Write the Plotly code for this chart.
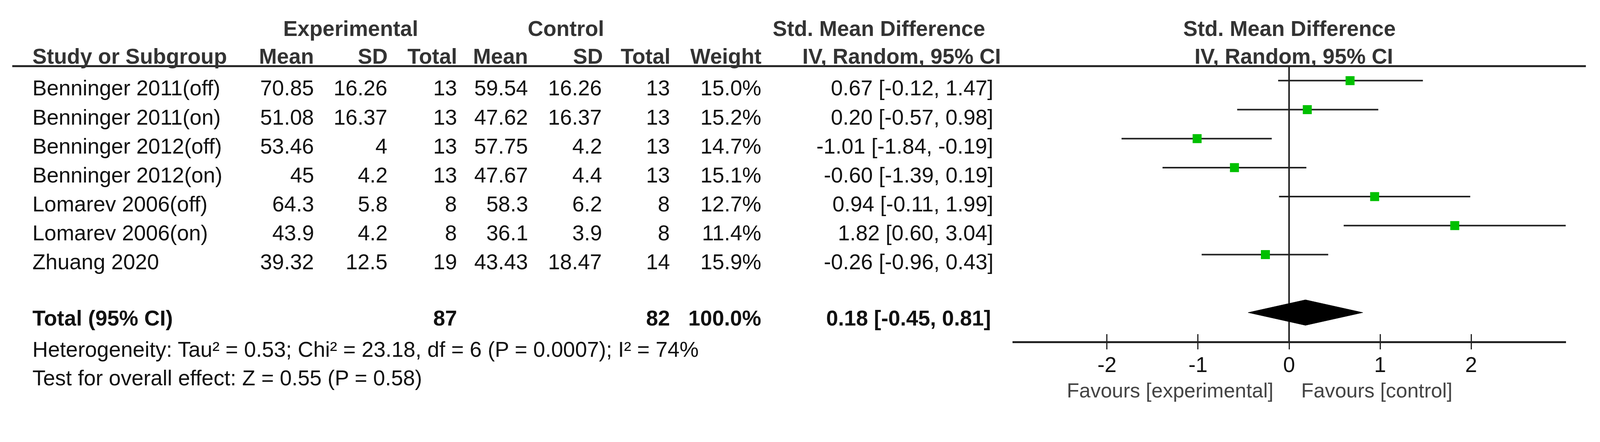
import plotly.graph_objects as go

# ---------------- data ----------------
studies = ["Benninger 2011(off)", "Benninger 2011(on)", "Benninger 2012(off)",
           "Benninger 2012(on)", "Lomarev 2006(off)", "Lomarev 2006(on)", "Zhuang 2020"]
exp_mean = [70.85, 51.08, 53.46, 45, 64.3, 43.9, 39.32]
exp_sd = [16.26, 16.37, 4, 4.2, 5.8, 4.2, 12.5]
exp_n = [13, 13, 13, 13, 8, 8, 19]
ctrl_mean = [59.54, 47.62, 57.75, 47.67, 58.3, 36.1, 43.43]
ctrl_sd = [16.26, 16.37, 4.2, 4.4, 6.2, 3.9, 18.47]
ctrl_n = [13, 13, 13, 13, 8, 8, 14]
weight = [15.0, 15.2, 14.7, 15.1, 12.7, 11.4, 15.9]
smd = [0.67, 0.20, -1.01, -0.60, 0.94, 1.82, -0.26]
ci_lo = [-0.12, -0.57, -1.84, -1.39, -0.11, 0.60, -0.96]
ci_hi = [1.47, 0.98, -0.19, 0.19, 1.99, 3.04, 0.43]

total_exp_n = 87
total_ctrl_n = 82
total_weight = 100.0
total_smd = 0.18
total_lo = -0.45
total_hi = 0.81

heterogeneity = "Heterogeneity: Tau² = 0.53; Chi² = 23.18, df = 6 (P = 0.0007); I² = 74%"
overall = "Test for overall effect: Z = 0.55 (P = 0.58)"
tick_vals = [-2, -1, 0, 1, 2]
tick_text = ["-2", "-1", "0", "1", "2"]
x_limit = 3.04

# ---------------- layout helpers ----------------
REF_W = 4307               # reference frame (positions below are measured in it)
W, H = 4096, 1131          # the browser viewport is capped at 4096 px wide
S = W / REF_W              # uniform scale from reference frame to page
ROW0_PX, ROW_PX = 217, 78  # reference-frame pixel y of first study row, row pitch


def ypx(px):
    """reference-frame pixel y -> y-axis value (row units)"""
    return (px - ROW0_PX) / ROW_PX


def xp(px):
    return px / REF_W


def sz(v):
    return round(v * S)


FONT = "Liberation Sans, Arial, sans-serif"
FS = sz(58)
TXT = "#111111"
HDR = "#333333"
TOTAL_ROW = len(studies) + 1

fig = go.Figure()

# zero line
fig.add_trace(go.Scatter(x=[0, 0], y=[ypx(178), ypx(920)], mode="lines",
                         line=dict(color="#222222", width=4), hoverinfo="skip",
                         showlegend=False))

# confidence intervals
cx, cy = [], []
for i in range(len(studies)):
    cx += [ci_lo[i], ci_hi[i], None]
    cy += [i, i, None]
fig.add_trace(go.Scatter(x=cx, y=cy, mode="lines",
                         line=dict(color="#222222", width=4), hoverinfo="skip",
                         showlegend=False))

# study estimates
fig.add_trace(go.Scatter(x=smd, y=list(range(len(studies))), mode="markers",
                         marker=dict(symbol="square", size=sz(24), color="#00C000",
                                     line=dict(width=0)),
                         hoverinfo="skip", showlegend=False))

# pooled diamond
dh = 0.44
fig.add_trace(go.Scatter(x=[total_lo, total_smd, total_hi, total_smd, total_lo],
                         y=[TOTAL_ROW, TOTAL_ROW - dh, TOTAL_ROW, TOTAL_ROW + dh, TOTAL_ROW],
                         mode="lines", fill="toself", fillcolor="#000000",
                         line=dict(color="#000000", width=1), hoverinfo="skip",
                         showlegend=False))

# invisible trace for the overlay axis (lower tick halves)
fig.add_trace(go.Scatter(x=[0], y=[0], xaxis="x2", mode="markers",
                         marker=dict(opacity=0), hoverinfo="skip", showlegend=False))

ann = []


def text(x_px, y, s, anchor="left", bold=False, color=TXT, size=FS, yshift=0):
    ann.append(dict(x=xp(x_px), y=y, xref="paper", yref="y",
                    text=f"<b>{s}</b>" if bold else s, showarrow=False,
                    xanchor=anchor, yanchor="middle", yshift=yshift,
                    font=dict(family=FONT, size=size, color=color)))


# header row 1
y1 = ypx(77)
text(944, y1, "Experimental", "center", True, HDR)
text(1524, y1, "Control", "center", True, HDR)
text(2366, y1, "Std. Mean Difference", "center", True, HDR)
text(3471, y1, "Std. Mean Difference", "center", True, HDR)
# header row 2
y2 = ypx(151)
text(85, y2, "Study or Subgroup", "left", True, HDR)
for xr, s in [(848, "Mean"), (1045, "SD"), (1232, "Total"), (1424, "Mean"),
              (1625, "SD"), (1807, "Total"), (2051, "Weight")]:
    text(xr, y2, s, "right", True, HDR)
text(2427, y2, "IV, Random, 95% CI", "center", True, HDR)
text(3483, y2, "IV, Random, 95% CI", "center", True, HDR)

# study rows
SH = -sz(20)
for i, name in enumerate(studies):
    text(85, i, name, "left", yshift=SH)
    text(848, i, f"{exp_mean[i]:g}", "right", yshift=SH)
    text(1045, i, f"{exp_sd[i]:g}", "right", yshift=SH)
    text(1232, i, f"{exp_n[i]}", "right", yshift=SH)
    text(1424, i, f"{ctrl_mean[i]:g}", "right", yshift=SH)
    text(1622, i, f"{ctrl_sd[i]:g}", "right", yshift=SH)
    text(1805, i, f"{ctrl_n[i]}", "right", yshift=SH)
    text(2051, i, f"{weight[i]:.1f}%", "right", yshift=SH)
    text(2676, i, f"{smd[i]:.2f} [{ci_lo[i]:.2f}, {ci_hi[i]:.2f}]", "right", yshift=SH)

# total row
TS = -sz(15)
text(85, TOTAL_ROW, "Total (95% CI)", "left", True, yshift=TS)
text(1232, TOTAL_ROW, f"{total_exp_n}", "right", True, yshift=TS)
text(1805, TOTAL_ROW, f"{total_ctrl_n}", "right", True, yshift=TS)
text(2051, TOTAL_ROW, f"{total_weight:.1f}%", "right", True, yshift=TS)
text(2670, TOTAL_ROW, f"{total_smd:.2f} [{total_lo:.2f}, {total_hi:.2f}]", "right", True, yshift=TS)

# footer
text(85, ypx(940), heterogeneity, "left")
text(85, ypx(1017), overall, "left")

# favours labels
ann.append(dict(x=0, y=ypx(1050), xref="x", yref="y", text="Favours [experimental]",
                showarrow=False, xanchor="right", yanchor="middle", xshift=-sz(40),
                font=dict(family=FONT, size=sz(55), color="#444444")))
ann.append(dict(x=0, y=ypx(1050), xref="x", yref="y", text="Favours [control]",
                showarrow=False, xanchor="left", yanchor="middle", xshift=sz(30),
                font=dict(family=FONT, size=sz(55), color="#444444")))

axis_pos = 1 - 920 * S / H
xdom = [xp(2725), xp(4215)]

fig.update_layout(
    width=W, height=H,
    margin=dict(l=0, r=0, t=0, b=0),
    paper_bgcolor="white", plot_bgcolor="white",
    annotations=ann,
    shapes=[dict(type="line", xref="paper", yref="y", x0=xp(33), x1=xp(4269),
                 y0=ypx(178), y1=ypx(178), line=dict(color="#222222", width=5))],
    # labelled axis: upper tick halves
    xaxis=dict(domain=xdom, range=[-x_limit, x_limit], anchor="free", position=axis_pos,
               showline=True, linewidth=5, linecolor="#222222",
               ticks="inside", ticklen=sz(19), tickwidth=3, tickcolor="#222222",
               tickvals=tick_vals, ticktext=tick_text, ticklabelstandoff=8,
               tickfont=dict(family=FONT, size=FS, color=TXT),
               showgrid=False, zeroline=False, fixedrange=True),
    # overlay axis: lower tick halves
    xaxis2=dict(domain=xdom, range=[-x_limit, x_limit], anchor="free", position=axis_pos,
                overlaying="x", side="bottom", showline=False,
                ticks="outside", ticklen=sz(19), tickwidth=3, tickcolor="#222222",
                tickvals=tick_vals, showticklabels=False,
                showgrid=False, zeroline=False, fixedrange=True),
    yaxis=dict(domain=[0, 1], range=[ypx(H / S), ypx(0)], visible=False,
               showgrid=False, zeroline=False, fixedrange=True),
    showlegend=False,
)

page_js = "document.body.style.margin='0';document.body.style.overflow='hidden';"
fig.write_html("out.html", config={"displayModeBar": False}, post_script=page_js)
